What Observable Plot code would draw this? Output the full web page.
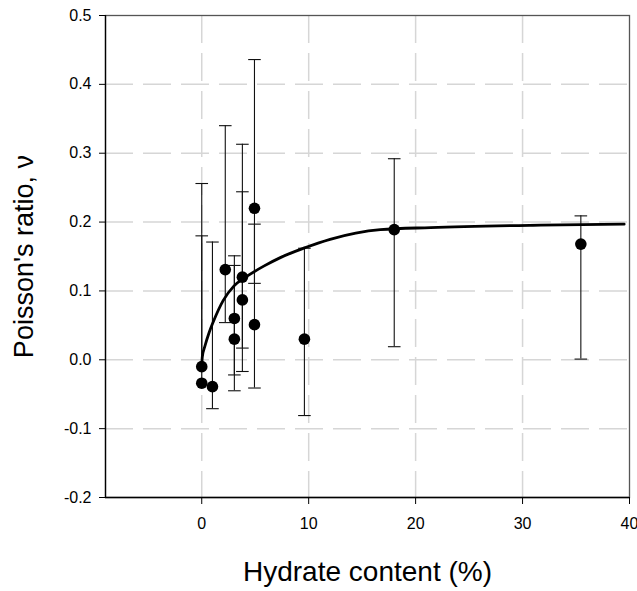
<!DOCTYPE html>
<html>
<head>
<meta charset="utf-8">
<script src="https://cdn.jsdelivr.net/npm/d3@7"></script>
<script src="https://cdn.jsdelivr.net/npm/@observablehq/plot@0.6"></script>
<style>
  html, body { margin: 0; padding: 0; background: #fff; }
  #chart svg { display: block; }
</style>
</head>
<body>
<div id="chart"></div>
<script>
// Measured Poisson's ratio against hydrate content, with error ranges
const hydrate = [0, 0, 1.0, 2.2, 3.05, 3.05, 3.8, 3.8, 4.93, 4.93, 9.6, 18.0, 35.45];
const ratio   = [-0.010, -0.034, -0.039, 0.131, 0.060, 0.030, 0.120, 0.087, 0.220, 0.051, 0.030, 0.189, 0.168];
const ratioLow  = [-0.010, -0.034, -0.071, 0.054, -0.022, -0.045, -0.017, 0.017, 0.111, -0.041, -0.081, 0.019, 0.001];
const ratioHigh = [0.180, 0.256, 0.171, 0.340, 0.151, 0.137, 0.313, 0.244, 0.436, 0.197, 0.162, 0.292, 0.209];

// Trend curve through the data
const trendX = [0, 0.05, 0.3, 0.7, 1.1, 2.0, 3.0, 4.2, 5.8, 7.3, 9.7, 12, 14.4, 16.7, 21.4, 31.7, 39.5];
const trendY = [-0.010, 0.004, 0.020, 0.040, 0.056, 0.086, 0.107, 0.121, 0.136, 0.148, 0.163, 0.175, 0.184, 0.189, 0.192, 0.1955, 0.197];

const xTicks = [0, 10, 20, 30, 40];
const yTicks = [-0.2, -0.1, 0.0, 0.1, 0.2, 0.3, 0.4, 0.5];
const xDomain = [-9, 40];
const yDomain = [-0.2, 0.5];

const points = hydrate.map((h, i) => ({h, v: ratio[i], lo: ratioLow[i], hi: ratioHigh[i]}));
const trend = trendX.map((h, i) => ({h, v: trendY[i]}));

// horizontal cap drawn at the ends of each error bar
const capSymbol = {
  draw(context) {
    context.moveTo(-6.3, 0);
    context.lineTo(6.3, 0);
  }
};

const gridStyle = {stroke: "#d6d6d6", strokeOpacity: 1, strokeWidth: 1.5, strokeDasharray: "28,10"};

const chart = Plot.plot({
  width: 637,
  height: 591,
  marginLeft: 105,
  marginRight: 8,
  marginTop: 15,
  marginBottom: 94,
  style: {fontFamily: "'Liberation Sans', Arial, sans-serif", color: "#000", background: "#fff"},
  x: {domain: xDomain},
  y: {domain: yDomain},
  marks: [
    Plot.gridX(xTicks.filter(t => t < 40), gridStyle),
    Plot.gridY(yTicks.filter(t => t > -0.2 && t < 0.5), gridStyle),
    Plot.frame({stroke: "#555", strokeWidth: 1.3}),
    Plot.ruleX([xDomain[0]], {stroke: "#000", strokeWidth: 1.3}),
    Plot.ruleY([yDomain[0]], {stroke: "#000", strokeWidth: 1.3}),
    Plot.axisX({ticks: xTicks, tickSize: 7, tickPadding: 13, fontSize: 16, label: null, tickFormat: d => String(d)}),
    Plot.axisY({ticks: yTicks, tickSize: 6, tickPadding: 8, fontSize: 16, label: null, tickFormat: d => d.toFixed(1)}),
    Plot.ruleX(points, {x: "h", y1: "lo", y2: "hi", stroke: "#111", strokeWidth: 1.1}),
    Plot.dot(points, {x: "h", y: "hi", symbol: capSymbol, r: 5, fill: "none", stroke: "#111", strokeWidth: 1.1}),
    Plot.dot(points.filter(d => d.lo !== d.v), {x: "h", y: "lo", symbol: capSymbol, r: 5, fill: "none", stroke: "#111", strokeWidth: 1.1}),
    Plot.dot(points, {x: "h", y: "v", r: 5.8, fill: "#000", stroke: "none"}),
    Plot.line(trend, {x: "h", y: "v", curve: "monotone-x", stroke: "#000", strokeWidth: 2.8}),
    Plot.text(["Hydrate content (%)"], {frameAnchor: "bottom", dy: 83, lineAnchor: "bottom", textAnchor: "middle", fontSize: 28, fill: "#000"}),
    Plot.text(["Poisson's ratio, \u03bd"], {frameAnchor: "left", dx: -73, rotate: -90, lineAnchor: "bottom", textAnchor: "middle", fontSize: 27, fill: "#000"})
  ]
});

document.getElementById("chart").appendChild(chart);
</script>
</body>
</html>
